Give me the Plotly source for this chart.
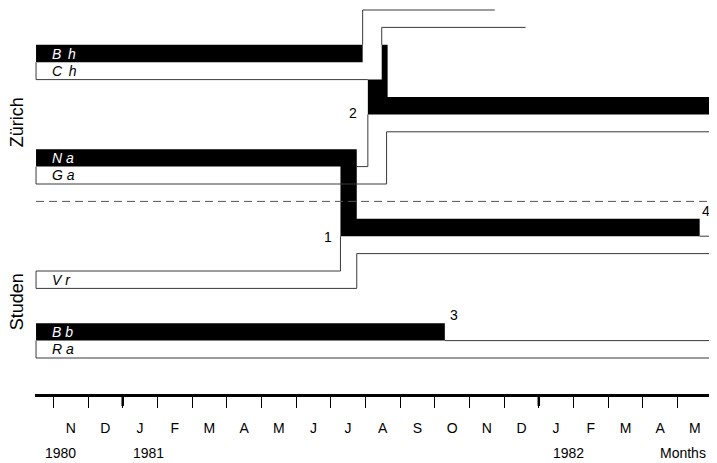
import plotly.graph_objects as go

# ---- time axis (months counted from Jan 1980) ----
month_starts = list(range(10, 30))            # Nov 1980 ... Jun 1982
month_labels = ["N", "D", "J", "F", "M", "A", "M", "J", "J", "A", "S", "O",
                "N", "D", "J", "F", "M", "A", "M"]
year_ticks = [12, 24]
year_labels = ["1980", "1981", "1982"]
year_label_pos = [10.2, 12.75, 24.85]

obs_start = 9.5
obs_end = 29.3

# ---- black bands (animal presence, filled) : start month, end month, lane top, lane bottom ----
black_m0 = [obs_start, 19.47, 19.07, 19.07, obs_start, 18.28, 18.28, obs_start]
black_m1 = [18.92, 19.64, 19.64, obs_end, 18.75, 18.75, 28.64, 21.29]
black_k0 = [2, 2, 4, 5, 8, 9, 12, 18]
black_k1 = [3, 5, 5, 6, 9, 13, 13, 19]

# ---- outline paths (months, lanes) ----
paths = [
    ([18.92, 18.92, 22.73], [2, 0, 0]),                      # Bh leaves upward
    ([19.47, 19.47, 23.62], [2, 1, 1]),
    ([obs_start, obs_start, 19.07], [3, 4, 4]),              # Ch box
    ([19.07, 19.07, 18.75], [6, 9, 9]),
    ([obs_start, obs_start, 19.61, 19.61, obs_end], [9, 10, 10, 7, 7]),   # Ga
    ([28.64, obs_end], [13, 13]),
    ([obs_start, obs_start, 18.28, 18.28], [16, 15, 15, 13]),          # Vr
    ([obs_start, 18.75, 18.75, obs_end], [16, 16, 14, 14]),
    ([21.29, obs_end], [19, 19]),                            # Bb / Ra
    ([obs_start, obs_start, obs_end], [19, 20, 20]),
]

names = ["B&#8201; h", "C&#8201; h", "N a", "G a", "V r", "B b", "R a"]
name_lane = [2.5, 3.5, 8.5, 9.5, 15.5, 18.5, 19.5]
name_on_black = [True, False, True, False, False, True, False]

event_labels = ["1", "2", "3", "4"]
event_m = [17.92, 18.63, 21.55, 28.82]
event_k = [13.05, 5.92, 17.5, 11.55]

site_labels = ["Zürich", "Studen"]
site_k = [6.45, 16.8]
separator_lane = 11

FONT = "Liberation Sans, Arial, Helvetica, sans-serif"

fig = go.Figure()

bx, by = [], []
for m0, m1, k0, k1 in zip(black_m0, black_m1, black_k0, black_k1):
    bx += [m0, m1, m1, m0, m0, None]
    by += [k0, k0, k1, k1, k0, None]
fig.add_trace(go.Scatter(x=bx, y=by, mode="lines", fill="toself",
                         fillcolor="black", line=dict(width=0, color="black"),
                         hoverinfo="skip", showlegend=False))

lx, ly = [], []
for xs, ys in paths:
    lx += xs + [None]
    ly += ys + [None]
fig.add_trace(go.Scatter(x=lx, y=ly, mode="lines",
                         line=dict(width=1, color="#3a3a3a"),
                         hoverinfo="skip", showlegend=False))

fig.add_trace(go.Scatter(x=[obs_start, obs_end], y=[separator_lane, separator_lane],
                         mode="lines", line=dict(width=1, color="#555555", dash="8px,5px"),
                         hoverinfo="skip", showlegend=False))

PLOT_H = 386.0
anns = []
for t, k, blk in zip(names, name_lane, name_on_black):
    anns.append(dict(x=9.9, y=k, xref="x", yref="y", text="<i>" + t + "</i>",
                     showarrow=False, xanchor="left", yanchor="middle",
                     font=dict(family=FONT, size=14, color="white" if blk else "black")))
for t, m, k in zip(event_labels, event_m, event_k):
    anns.append(dict(x=m, y=k, xref="x", yref="y", text=t, showarrow=False,
                     xanchor="center", yanchor="middle",
                     font=dict(family=FONT, size=14, color="black")))
for t, k in zip(site_labels, site_k):
    anns.append(dict(x=-18 / 682, y=k, xref="paper", yref="y", text=t, showarrow=False,
                     textangle=-90, xanchor="center", yanchor="middle",
                     font=dict(family=FONT, size=18, color="black")))
for t, m in zip(year_labels, year_label_pos):
    anns.append(dict(x=m, y=-59 / PLOT_H, xref="x", yref="paper", text=t, showarrow=False,
                     xanchor="center", yanchor="middle",
                     font=dict(family=FONT, size=14, color="black")))
anns.append(dict(x=28.15, y=-59 / PLOT_H, xref="x", yref="paper", text="Months", showarrow=False,
                 xanchor="center", yanchor="middle",
                 font=dict(family=FONT, size=14, color="black")))

shapes = []
for m in year_ticks:
    shapes.append(dict(type="line", xref="x", yref="paper", x0=m, x1=m, y0=0, y1=-12 / PLOT_H,
                       line=dict(width=2.5, color="black")))

# page body has an 8px margin: figure is drawn 8px smaller and shifted accordingly
fig.update_layout(
    width=709, height=455,
    margin=dict(l=27, r=0, t=0, b=69),
    paper_bgcolor="white", plot_bgcolor="white",
    showlegend=False,
    annotations=anns, shapes=shapes,
    xaxis=dict(range=[9.47, 29.14], showgrid=False, zeroline=False,
               showline=True, linewidth=3, linecolor="black",
               tickmode="array", tickvals=[m + 0.5 for m in month_starts[:len(month_labels)]],
               ticktext=month_labels, ticks="",
               ticklabelstandoff=19,
               tickfont=dict(family=FONT, size=14, color="black"),
               minor=dict(tickmode="array", tickvals=month_starts, ticks="outside",
                          ticklen=11, tickwidth=1, tickcolor="black", showgrid=False)),
    yaxis=dict(range=[22.069, -0.115], visible=False, showgrid=False, zeroline=False),
)

fig.write_html("out.html")
